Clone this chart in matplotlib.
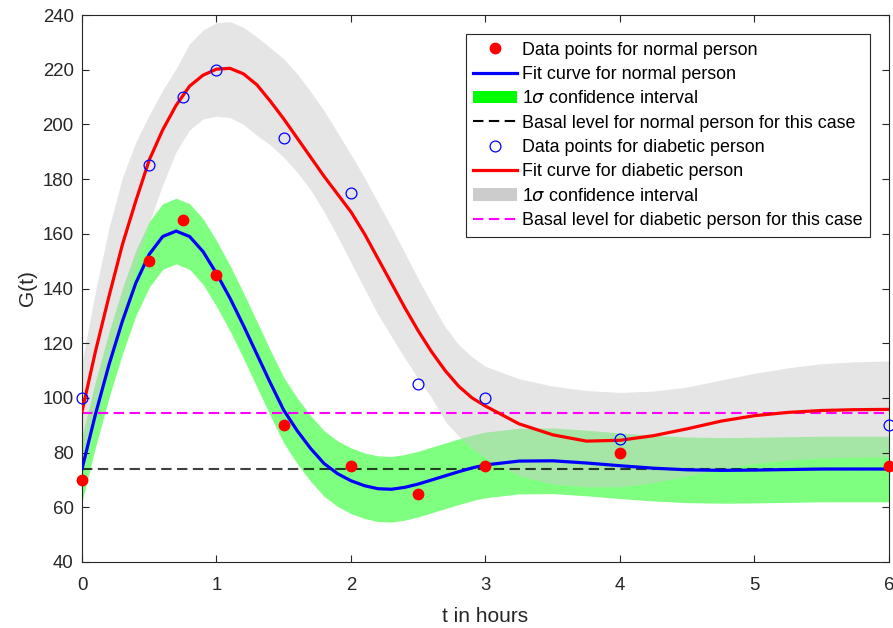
import numpy as np
import matplotlib
matplotlib.use("Agg")
import matplotlib.pyplot as plt
from matplotlib.lines import Line2D
from matplotlib.patches import Patch

plt.rcParams['font.family'] = ['Liberation Sans', 'DejaVu Sans']

# measured data
t_data = [0, 0.5, 0.75, 1, 1.5, 2, 2.5, 3, 4, 6]
g_normal = [70, 150, 165, 145, 90, 75, 65, 75, 80, 75]
g_diabetic = [100, 185, 210, 220, 195, 175, 105, 100, 85, 90]

# fit curves and bands
t_fit = [0.0, 0.1, 0.2, 0.3, 0.4, 0.5, 0.6, 0.7, 0.8, 0.9,
         1.0, 1.1, 1.2, 1.3, 1.4, 1.5, 1.6, 1.7, 1.8, 1.9,
         2.0, 2.1, 2.2, 2.3, 2.4, 2.5, 2.6, 2.7, 2.8, 2.9,
         3.0, 3.25, 3.5, 3.75, 4.0, 4.25, 4.5, 4.75, 5.0, 5.25,
         5.5, 5.75, 6.0]
fit_normal = [74, 94, 112, 128, 142, 152.5, 159, 161, 159, 153.5,
              145.5, 136.5, 126.5, 116, 105.5, 95.5, 88, 81.5, 76, 72.3,
              69.7, 67.9, 66.8, 66.6, 67.3, 68.5, 70, 71.5, 73, 74.4,
              75.5, 76.9, 77.0, 76.2, 75.2, 74.3, 73.7, 73.5, 73.6, 73.8,
              74.0, 74.0, 74.0]
ci_normal_hi = [86, 106, 124, 140, 154, 164.5, 171, 173, 171, 165.5,
                157.5, 148.5, 138.5, 128, 117.5, 107.5, 100, 93.5, 88, 84.3,
                81.7, 79.9, 78.8, 78.6, 79.3, 80.5, 82, 83.5, 85, 86.4,
                87.5, 88.9, 89, 88.2, 87.2, 86.3, 85.7, 85.5, 85.6, 85.8,
                86, 86, 86]
ci_normal_lo = [62, 82, 100, 116, 130, 140.5, 147, 149, 147, 141.5,
                133.5, 124.5, 114.5, 104, 93.5, 83.5, 76, 69.5, 64, 60.3,
                57.7, 55.9, 54.8, 54.6, 55.3, 56.5, 58, 59.5, 61, 62.4,
                63.5, 64.9, 65, 64.2, 63.2, 62.3, 61.7, 61.5, 61.6, 61.8,
                62, 62, 62]
fit_diabetic = [95, 117, 137, 156, 172, 187, 198, 207, 214, 218,
                220.2, 220.5, 218.5, 214.5, 208.5, 202, 195, 188, 181, 174.5,
                168, 160, 151, 142, 133, 124.5, 116.8, 110, 104.3, 100,
                97, 90.5, 86.5, 84.2, 84.5, 86.2, 88.7, 91.5, 93.5, 94.7,
                95.4, 95.7, 95.8]
ci_diabetic_hi = [113, 139, 162, 180.5, 193.5, 203.5, 212.5, 220.5, 229.5, 234.5,
                  237.2, 237.6, 235.5, 232, 228, 224, 218.5, 212, 205, 197,
                  189, 180.5, 171.5, 162.5, 153, 143.5, 134.5, 126, 119.5, 115,
                  111.5, 107, 104.3, 102.7, 102, 102.5, 104, 106.5, 109, 111,
                  112.5, 113.2, 113.5]
ci_diabetic_lo = [78, 96, 114, 131, 148, 164, 178, 190, 198, 202,
                  203, 202.5, 200, 196, 192.5, 188, 182.5, 176, 168, 159,
                  149.5, 140, 130.5, 122.5, 114.5, 107, 100, 91.5, 86, 81.5,
                  78, 71.5, 68.5, 67.5, 67.5, 69, 71.5, 74, 76, 77.3,
                  78, 78.3, 78.4]
basal_normal = 74
basal_diabetic = 94.6

fig = plt.figure(figsize=(8.93, 6.28), dpi=100)
ax = fig.add_axes([82 / 893, 1 - 562 / 628, 807 / 893, 547 / 628])

ax.fill_between(t_fit, ci_normal_lo, ci_normal_hi, color=(0, 1, 0), alpha=0.5,
                linewidth=0, zorder=1)
ax.fill_between(t_fit, ci_diabetic_lo, ci_diabetic_hi, color=(0.8, 0.8, 0.8), alpha=0.5,
                linewidth=0, zorder=1.1)

dash = (0, (5, 2.6))
ax.axhline(basal_normal, color='k', lw=1.5, ls=dash, alpha=0.75, zorder=2)
ax.axhline(basal_diabetic, color=(1, 0, 1), lw=1.5, ls=dash, zorder=2)
ax.plot(t_fit, fit_normal, color=(0, 0, 1), lw=2.3, zorder=3)
ax.plot(t_fit, fit_diabetic, color=(1, 0, 0), lw=2.3, zorder=3)
ax.plot(t_data, g_normal, 'o', color=(1, 0, 0), ms=8.5, mec='none', zorder=4, clip_on=False)
ax.plot(t_data, g_diabetic, 'o', mfc='none', mec=(0, 0, 1), ms=7.8, mew=0.9, zorder=4,
        clip_on=False)

ax.set_xlim(0, 6)
ax.set_ylim(40, 240)
ax.set_xticks(range(0, 7))
ax.set_yticks(range(40, 241, 20))
dark = '#262626'
for s in ax.spines.values():
    s.set_color(dark)
    s.set_linewidth(0.8)
ax.tick_params(direction='in', length=4.8, width=0.8, colors=dark, labelsize=13.4,
               top=True, right=True)
ax.tick_params(axis='x', pad=10.5)
ax.tick_params(axis='y', pad=6)
ax.set_xlabel('t in hours', fontsize=15, color=dark, labelpad=10)
ax.set_ylabel('G(t)', fontsize=15, color=dark, labelpad=4)

handles = [
    Line2D([], [], marker='o', ls='none', color=(1, 0, 0), ms=8.5, mec='none'),
    Line2D([], [], color=(0, 0, 1), lw=2.3),
    Patch(facecolor=(0, 1, 0), edgecolor='none'),
    Line2D([], [], color='k', lw=1.5, ls=dash),
    Line2D([], [], marker='o', ls='none', mfc='none', mec=(0, 0, 1), ms=7.8, mew=0.9),
    Line2D([], [], color=(1, 0, 0), lw=2.3),
    Patch(facecolor=(0.8, 0.8, 0.8), edgecolor='none'),
    Line2D([], [], color=(1, 0, 1), lw=1.5, ls=dash),
]
labels = [
    'Data points for normal person',
    'Fit curve for normal person',
    r'1$\sigma$ confidence interval',
    'Basal level for normal person for this case',
    'Data points for diabetic person',
    'Fit curve for diabetic person',
    r'1$\sigma$ confidence interval',
    'Basal level for diabetic person for this case',
]
leg = ax.legend(handles, labels, loc='upper right', bbox_to_anchor=(0.9765, 0.965),
                borderaxespad=0, fontsize=12.9, handlelength=2.45, handletextpad=0.28,
                labelspacing=0.41, borderpad=0.42, fancybox=False, framealpha=1,
                edgecolor=dark)
leg.get_frame().set_linewidth(0.8)

fig.savefig('out.png', dpi=100)
